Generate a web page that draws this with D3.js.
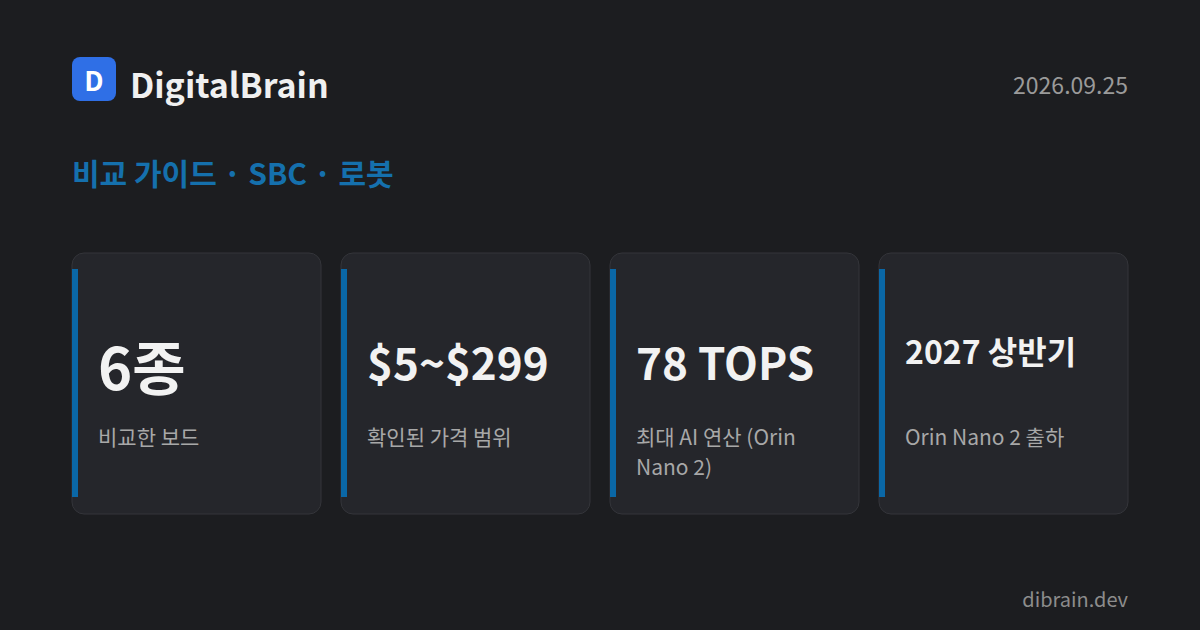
<!DOCTYPE html>
<html><head><meta charset="utf-8">
<script src="https://cdn.jsdelivr.net/npm/d3@7"></script>
<style>
body{margin:0;background:#1c1d20;}
text{font-family:"Noto Sans CJK KR","Noto Sans",sans-serif;}
</style></head>
<body>
<svg id="c" width="1200" height="630"></svg>
<script>
// card values and labels
var statValues = ['6종', '$5~$299', '78 TOPS', '2027 상반기']
var statLabels = [['비교한 보드'], ['확인된 가격 범위'], ['최대 AI 연산 (Orin', 'Nano 2)'], ['Orin Nano 2 출하']]
var brand = 'DigitalBrain'
var dateText = '2026.09.25'
var subtitle = '비교 가이드 · SBC · 로봇'
var site = 'dibrain.dev'

var svg = d3.select('#c')
svg.append('rect').attr('width', 1200).attr('height', 630).attr('fill', '#1c1d20')

// header
svg.append('rect').attr('x', 72).attr('y', 57).attr('width', 44).attr('height', 44)
  .attr('rx', 8).attr('fill', '#2f6fe6')
svg.append('text').attr('x', 94).attr('y', 91).attr('text-anchor', 'middle')
  .attr('fill', '#fff').attr('font-size', 27).attr('font-weight', 700).text('D')
svg.append('text').attr('x', 130).attr('y', 98).attr('fill', '#f0f0f0')
  .attr('font-size', 34).attr('font-weight', 700).text(brand)
svg.append('text').attr('x', 1128).attr('y', 94).attr('text-anchor', 'end')
  .attr('fill', '#9a9a9a').attr('font-size', 23).text(dateText)
svg.append('text').attr('x', 72).attr('y', 185).attr('fill', '#1570ad')
  .attr('font-size', 30).attr('font-weight', 700).text(subtitle)

// cards
var x = d3.scaleBand().domain(d3.range(statValues.length)).range([72, 1128]).paddingInner(20 / 269)
var cards = svg.selectAll('g.card').data(statValues).enter().append('g')
  .attr('class', 'card')
  .attr('transform', function(d, i) { return 'translate(' + x(i) + ',253)' })

cards.append('rect').attr('width', x.bandwidth()).attr('height', 261)
  .attr('rx', 12).attr('fill', '#25262b').attr('stroke', '#34353a')
cards.append('rect').attr('x', 0).attr('y', 16).attr('width', 6).attr('height', 228)
  .attr('fill', '#0a67a6')

cards.append('text').attr('x', 26)
  .attr('y', function(d) { return d.length > 7 ? 111 : d.length > 4 ? 127 : 137 })
  .attr('font-size', function(d) { return d.length > 7 ? 32 : d.length > 4 ? 44 : 58 })
  .attr('font-weight', 700).attr('fill', '#f2f2f2').text(function(d) { return d })

cards.each(function(d, i) {
  d3.select(this).selectAll('text.lbl').data(statLabels[i]).enter().append('text')
    .attr('class', 'lbl').attr('x', 26).attr('y', function(l, j) { return 192 + j * 30 })
    .attr('font-size', 21).attr('fill', '#a8a8a8').text(function(l) { return l })
})

svg.append('text').attr('x', 1128).attr('y', 607).attr('text-anchor', 'end')
  .attr('fill', '#8c8c8c').attr('font-size', 20).text(site)
</script>
</body></html>
